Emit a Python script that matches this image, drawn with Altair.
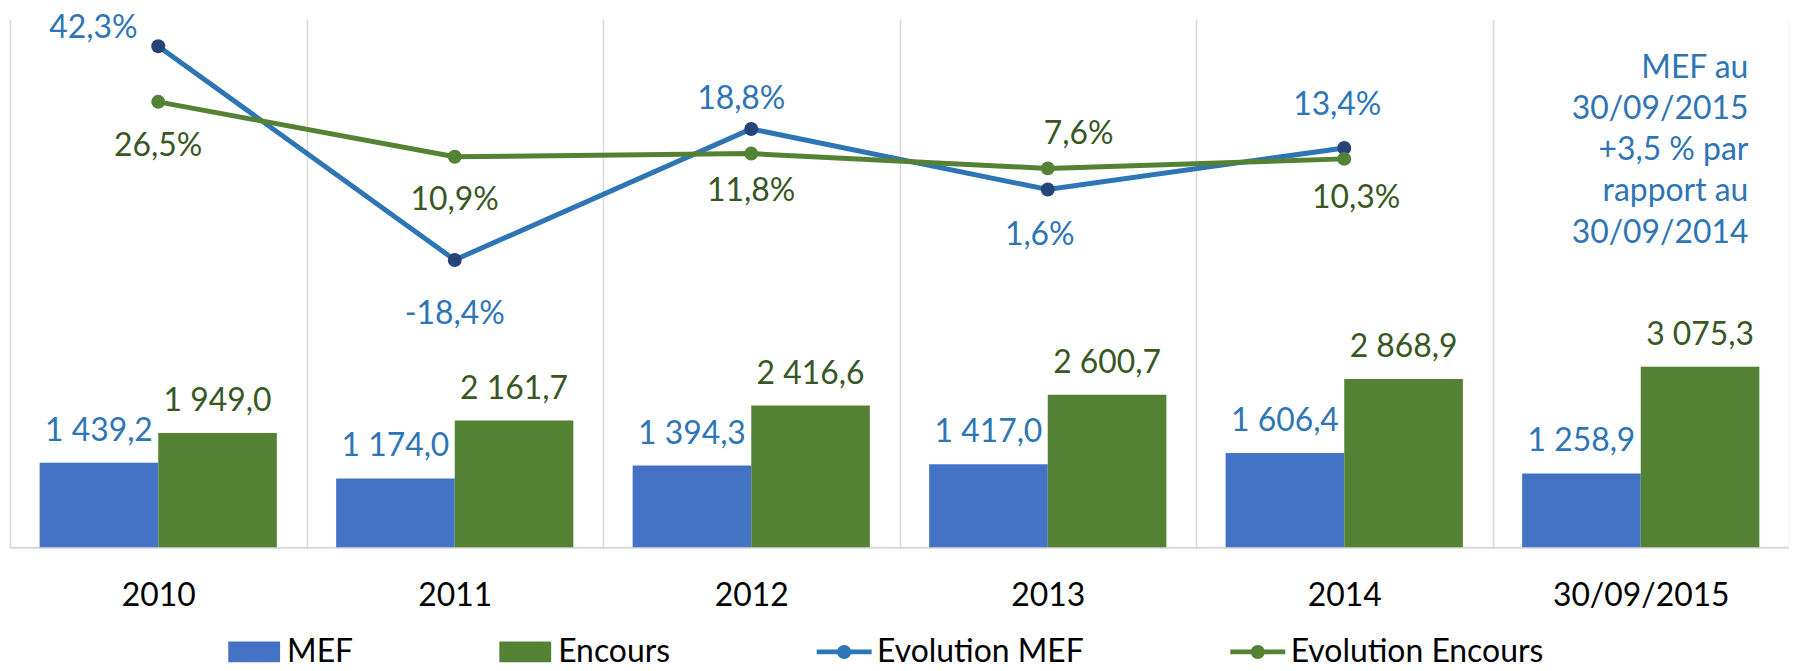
import altair as alt
import pandas as pd

# ---------------- data ----------------
categories = ["2010", "2011", "2012", "2013", "2014", "30/09/2015"]
mef = [1439.2, 1174.0, 1394.3, 1417.0, 1606.4, 1258.9]
encours = [1949.0, 2161.7, 2416.6, 2600.7, 2868.9, 3075.3]
evol_years = ["2010", "2011", "2012", "2013", "2014"]
evol_mef = [42.3, -18.4, 18.8, 1.6, 13.4]
evol_encours = [26.5, 10.9, 11.8, 7.6, 10.3]
note_lines = ["MEF au", "30/09/2015", "+3,5 % par", "rapport au", "30/09/2014"]
series_names = ["MEF", "Encours", "Evolution MEF", "Evolution Encours"]


def fr_number(v):
    return f"{v:,.1f}".replace(",", " ").replace(".", ",")


def fr_pct(v):
    return f"{v:.1f}%".replace(".", ",")


bars_df = pd.DataFrame(
    [{"year": c, "serie": "MEF", "value": v, "label": fr_number(v)} for c, v in zip(categories, mef)]
    + [{"year": c, "serie": "Encours", "value": v, "label": fr_number(v)} for c, v in zip(categories, encours)]
)
lines_df = pd.DataFrame(
    [{"year": c, "serie": "Evolution MEF", "pct": v, "label": fr_pct(v)} for c, v in zip(evol_years, evol_mef)]
    + [{"year": c, "serie": "Evolution Encours", "pct": v, "label": fr_pct(v)} for c, v in zip(evol_years, evol_encours)]
)
note_df = pd.DataFrame({"year": [categories[-1]]})
legend_df = pd.DataFrame({"serie": series_names})

# ---------------- style ----------------
FONT = "Lato"
FS = 32
W, H = 1785, 530
BLUE_BAR = "#4472C4"
GREEN_BAR = "#548235"
BLUE_LINE = "#2E75B6"
GREEN_LINE = "#548235"
NAVY = "#264478"
BLUE_TXT = "#2E75B6"
GREEN_TXT = "#385723"

swatch = "M-1,-0.4H1V0.4H-1Z"
linedot = ("M-1.06,-0.09H1.06V0.09H-1.06Z "
           "M0.27,0A0.27,0.27 0 1,1 -0.27,0A0.27,0.27 0 1,1 0.27,0Z")

x_enc = alt.X(
    "year:N",
    sort=categories,
    scale=alt.Scale(domain=categories, paddingInner=0, paddingOuter=0),
    axis=alt.Axis(
        title=None, labelAngle=0, labelFont=FONT, labelFontSize=FS, labelColor="#000000",
        labelPadding=33, ticks=False, tickSize=0, tickBand="extent",
        domainColor="#D9D9D9", domainWidth=2,
        grid=True, gridColor="#D9D9D9", gridWidth=1.5,
    ),
)
xoff_enc = alt.XOffset(
    "serie:N", sort=["MEF", "Encours"],
    scale=alt.Scale(domain=["MEF", "Encours"], paddingOuter=0.25, paddingInner=0),
)
y_bar = alt.Y("value:Q", scale=alt.Scale(domain=[0, 9000], nice=False, zero=True), axis=None)
y_pct = alt.Y("pct:Q", scale=alt.Scale(domain=[-100, 50], nice=False, zero=False), axis=None)

legend = alt.Legend(
    title=None, orient="none", legendX=219, legendY=609, direction="horizontal",
    symbolSize=2704, symbolStrokeWidth=0, symbolOpacity=1,
    labelFont=FONT, labelFontSize=FS, labelColor="#000000", labelOffset=7, labelLimit=0,
    columnPadding=146, padding=0,
)
color_enc = alt.Color(
    "serie:N",
    scale=alt.Scale(domain=series_names, range=[BLUE_BAR, GREEN_BAR, BLUE_LINE, GREEN_LINE]),
    legend=legend,
)
shape_enc = alt.Shape(
    "serie:N",
    scale=alt.Scale(domain=series_names, range=[swatch, swatch, linedot, linedot]),
    legend=legend,
)

# ---------------- layers ----------------
bars = alt.Chart(bars_df).mark_bar().encode(x=x_enc, xOffset=xoff_enc, y=y_bar, color=color_enc)


def bar_labels(serie, color):
    return (
        alt.Chart(bars_df)
        .transform_filter(alt.datum.serie == serie)
        .mark_text(font=FONT, fontSize=FS, color=color, baseline="alphabetic", dy=-22)
        .encode(x=x_enc, xOffset=xoff_enc, y=y_bar, text="label:N")
    )


lines = alt.Chart(lines_df).mark_line(strokeWidth=5).encode(x=x_enc, y=y_pct, color=color_enc)


def markers(serie, color):
    return (
        alt.Chart(lines_df)
        .transform_filter(alt.datum.serie == serie)
        .mark_point(filled=True, size=196, opacity=1, color=color)
        .encode(x=x_enc, y=y_pct)
    )


label_offsets = [
    ("Evolution MEF", "2010", -65, -20, BLUE_TXT),
    ("Evolution MEF", "2011", 0, 52, BLUE_TXT),
    ("Evolution MEF", "2012", -10, -32, BLUE_TXT),
    ("Evolution MEF", "2013", -8, 44, BLUE_TXT),
    ("Evolution MEF", "2014", -7, -45, BLUE_TXT),
    ("Evolution Encours", "2010", 0, 42, GREEN_TXT),
    ("Evolution Encours", "2011", 0, 41, GREEN_TXT),
    ("Evolution Encours", "2012", 0, 36, GREEN_TXT),
    ("Evolution Encours", "2013", 31, -36, GREEN_TXT),
    ("Evolution Encours", "2014", 12, 37, GREEN_TXT),
]


def pct_label(serie, year, dx, dy, color):
    return (
        alt.Chart(lines_df)
        .transform_filter((alt.datum.serie == serie) & (alt.datum.year == year))
        .mark_text(font=FONT, fontSize=FS, color=color, baseline="middle", dx=dx, dy=dy + 2)
        .encode(x=x_enc, y=y_pct, text="label:N")
    )


note = (
    alt.Chart(note_df)
    .mark_text(text=note_lines, font=FONT, fontSize=FS, color=BLUE_TXT, align="right",
               baseline="middle", lineHeight=41.3, dx=108)
    .encode(x=x_enc, y=alt.value(49))
)

legend_carrier = (
    alt.Chart(legend_df)
    .transform_filter("false")
    .mark_point(filled=True)
    .encode(color=color_enc, shape=shape_enc)
)

layers = [
    bars,
    bar_labels("MEF", BLUE_TXT),
    bar_labels("Encours", GREEN_TXT),
    lines,
    markers("Evolution MEF", NAVY),
    markers("Evolution Encours", GREEN_LINE),
]
layers += [pct_label(*o) for o in label_offsets]
layers += [note, legend_carrier]

chart = (
    alt.layer(*layers)
    .resolve_scale(y="independent")
    .properties(
        width=W, height=H,
        padding={"left": 2, "top": 10, "right": 0, "bottom": 123},
        autosize=alt.AutoSizeParams(type="none"),
        background="white",
    )
    .configure_view(stroke=None)
)

chart.save("out.html", embed_options={"renderer": "svg", "actions": False})
